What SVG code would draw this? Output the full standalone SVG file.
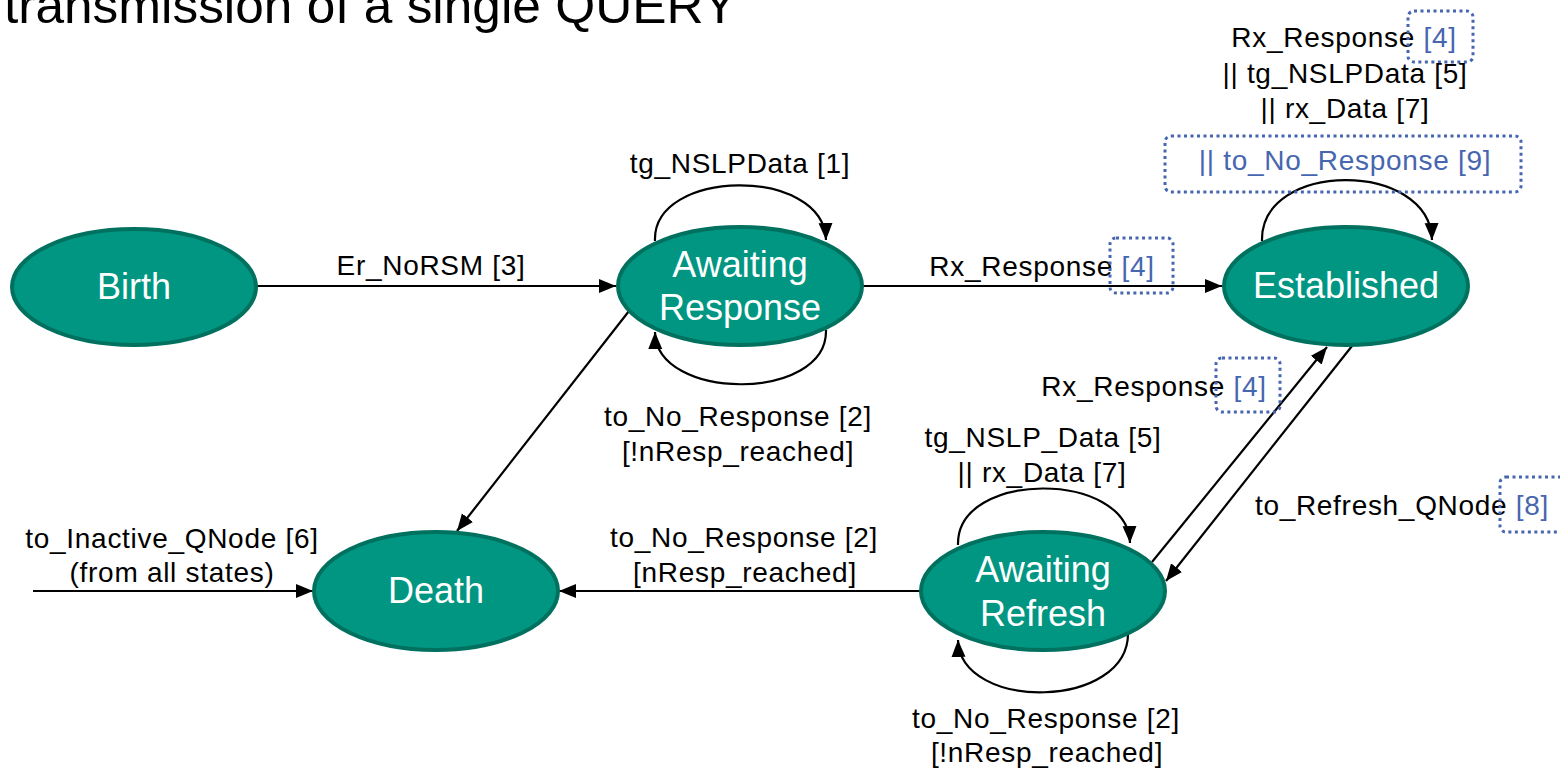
<svg xmlns="http://www.w3.org/2000/svg" width="1560" height="768" viewBox="0 0 1560 768">
  <style>
    .state { fill: #009682; stroke: #00705F; stroke-width: 4; }
    .stext { font-family: "Liberation Sans", Arial, sans-serif; font-size: 36px; fill: #ffffff; text-anchor: middle; }
    .lbl { font-family: "Liberation Sans", Arial, sans-serif; font-size: 28px; letter-spacing: 0.7px; fill: #000000; text-anchor: middle; }
    .ref { fill: #4766B0; }
    .edge { fill: none; stroke: #000000; stroke-width: 2.2; }
    .dotbox { fill: none; stroke: #4766B0; stroke-width: 3; stroke-dasharray: 3 3.5; }
  </style>
  <defs>
    <marker id="arrow" markerUnits="userSpaceOnUse" markerWidth="18" markerHeight="16" refX="17" refY="8" orient="auto">
      <path d="M0,1 L17,8 L0,15 z" fill="#000000"/>
    </marker>
  </defs>

  <rect width="1560" height="768" fill="#ffffff"/>

  <!-- heading, partly above the top edge -->
  <text x="4" y="23" font-family="Liberation Sans, Arial, sans-serif" font-size="50" textLength="733" lengthAdjust="spacingAndGlyphs" fill="#000000">transmission of a single QUERY</text>

  <!-- transitions -->
  <g id="connectors">
    <!-- Birth -> Awaiting Response -->
    <line class="edge" x1="256" y1="286" x2="616" y2="286" marker-end="url(#arrow)"/>
    <!-- Awaiting Response self loops -->
    <path class="edge" d="M655,241 C652,168 824,166 826,240" marker-end="url(#arrow)"/>
    <path class="edge" d="M826,330 C828,402 656,402 655,332" marker-end="url(#arrow)"/>
    <!-- Awaiting Response -> Established -->
    <line class="edge" x1="862" y1="286" x2="1222" y2="286" marker-end="url(#arrow)"/>
    <!-- Established self loop -->
    <path class="edge" d="M1262,241 C1260,160 1430,160 1432,240" marker-end="url(#arrow)"/>
    <!-- Awaiting Refresh -> Established -->
    <line class="edge" x1="1152" y1="562" x2="1327" y2="347" marker-end="url(#arrow)"/>
    <!-- Established -> Awaiting Refresh -->
    <line class="edge" x1="1352" y1="346" x2="1166" y2="581" marker-end="url(#arrow)"/>
    <!-- Awaiting Refresh self loops -->
    <path class="edge" d="M958,545 C956,470 1128,470 1130,543" marker-end="url(#arrow)"/>
    <path class="edge" d="M1128,632 C1130,710 960,712 958,640" marker-end="url(#arrow)"/>
    <!-- Awaiting Response -> Death -->
    <line class="edge" x1="629" y1="311" x2="457" y2="531" marker-end="url(#arrow)"/>
    <!-- Awaiting Refresh -> Death -->
    <line class="edge" x1="920" y1="591" x2="559" y2="591" marker-end="url(#arrow)"/>
    <!-- from all states -> Death -->
    <line class="edge" x1="33" y1="591" x2="313" y2="591" marker-end="url(#arrow)"/>
  </g>

  <!-- transition labels -->
  <g id="labels">
    <text class="lbl" x="431" y="275">Er_NoRSM [3]</text>
    <text class="lbl" x="740" y="173">tg_NSLPData [1]</text>
    <text class="lbl" x="738" y="426">to_No_Response [2]</text>
    <text class="lbl" x="738" y="461">[!nResp_reached]</text>
    <text class="lbl" x="1042" y="276">Rx_Response<tspan class="ref"> [4]</tspan></text>
    <rect class="dotbox" x="1110" y="238" width="63" height="55" rx="6"/>

    <text class="lbl" x="1344" y="47">Rx_Response<tspan class="ref"> [4]</tspan></text>
    <rect class="dotbox" x="1408" y="11" width="65" height="51" rx="6"/>
    <text class="lbl" x="1345" y="83">|| tg_NSLPData [5]</text>
    <text class="lbl" x="1345" y="118">|| rx_Data [7]</text>
    <text class="lbl ref" x="1345" y="170">|| to_No_Response [9]</text>
    <rect class="dotbox" x="1165" y="136" width="356" height="56" rx="6"/>

    <text class="lbl" x="1154" y="396">Rx_Response<tspan class="ref"> [4]</tspan></text>
    <rect class="dotbox" x="1216" y="358" width="64" height="54" rx="6"/>
    <text class="lbl" x="1402" y="515">to_Refresh_QNode<tspan class="ref"> [8]</tspan></text>
    <rect class="dotbox" x="1500" y="477" width="75" height="55" rx="6"/>

    <text class="lbl" x="1043" y="447">tg_NSLP_Data [5]</text>
    <text class="lbl" x="1042" y="482">|| rx_Data [7]</text>
    <text class="lbl" x="1046" y="728">to_No_Response [2]</text>
    <text class="lbl" x="1047" y="762">[!nResp_reached]</text>

    <text class="lbl" x="744" y="547">to_No_Response [2]</text>
    <text class="lbl" x="745" y="582">[nResp_reached]</text>
    <text class="lbl" x="172" y="548">to_Inactive_QNode [6]</text>
    <text class="lbl" x="172" y="582">(from all states)</text>
  </g>

  <!-- states -->
  <g id="birth">
    <ellipse class="state" cx="134" cy="287" rx="122" ry="58"/>
    <text class="stext" x="134" y="299">Birth</text>
  </g>
  <g id="awaiting-response">
    <ellipse class="state" cx="740" cy="286" rx="122" ry="59"/>
    <text class="stext" x="740" y="277">Awaiting</text>
    <text class="stext" x="740" y="320">Response</text>
  </g>
  <g id="established">
    <ellipse class="state" cx="1346" cy="286" rx="122" ry="59"/>
    <text class="stext" x="1346" y="298">Established</text>
  </g>
  <g id="death">
    <ellipse class="state" cx="436" cy="591" rx="122" ry="59"/>
    <text class="stext" x="436" y="603">Death</text>
  </g>
  <g id="awaiting-refresh">
    <ellipse class="state" cx="1043" cy="591" rx="122" ry="59"/>
    <text class="stext" x="1043" y="582">Awaiting</text>
    <text class="stext" x="1043" y="626">Refresh</text>
  </g>
</svg>
